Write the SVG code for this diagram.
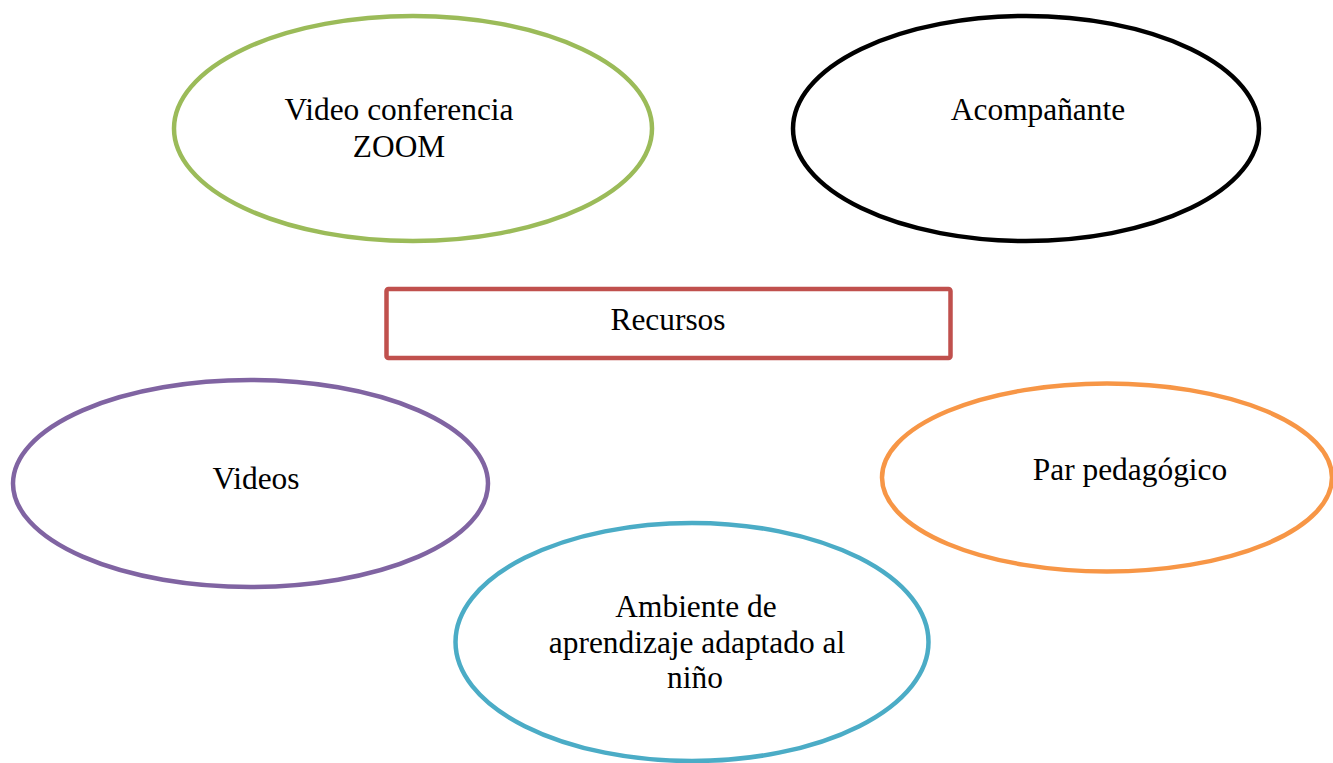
<svg xmlns="http://www.w3.org/2000/svg" width="1333" height="763" viewBox="0 0 1333 763">
<style>
.shape{fill:#fff;stroke-width:4.5}
.t{font-family:"Liberation Serif","Times New Roman",serif;font-size:31.4px;fill:#000;text-anchor:middle}
</style>
<rect width="1333" height="763" fill="#fff"/>
<g id="connectors"></g>
<g id="node-zoom">
<ellipse class="shape" cx="413" cy="128.5" rx="239" ry="112.5" stroke="#9BBB59"/>
<text class="t" x="399" y="119.5">Video conferencia</text>
<text class="t" x="399" y="157">ZOOM</text>
</g>
<g id="node-acompanante">
<ellipse class="shape" cx="1026" cy="128.5" rx="233" ry="112.5" stroke="#000"/>
<text class="t" x="1038" y="120">Acompañante</text>
</g>
<g id="node-recursos">
<rect class="shape" x="386.5" y="289" width="564" height="69" rx="2" stroke="#C0504D"/>
<text class="t" x="668" y="330">Recursos</text>
</g>
<g id="node-videos">
<ellipse class="shape" cx="250.5" cy="483.5" rx="237.5" ry="103.5" stroke="#8064A2"/>
<text class="t" x="256" y="489">Videos</text>
</g>
<g id="node-par">
<ellipse class="shape" cx="1107" cy="477.5" rx="225" ry="94" stroke="#F79646"/>
<text class="t" x="1130" y="480">Par pedagógico</text>
</g>
<g id="node-ambiente">
<ellipse class="shape" cx="692" cy="642" rx="236.5" ry="119" stroke="#4BACC6"/>
<text class="t" x="696" y="617">Ambiente de</text>
<text class="t" x="697" y="652.5">aprendizaje adaptado al</text>
<text class="t" x="695" y="688">niño</text>
</g>
</svg>
